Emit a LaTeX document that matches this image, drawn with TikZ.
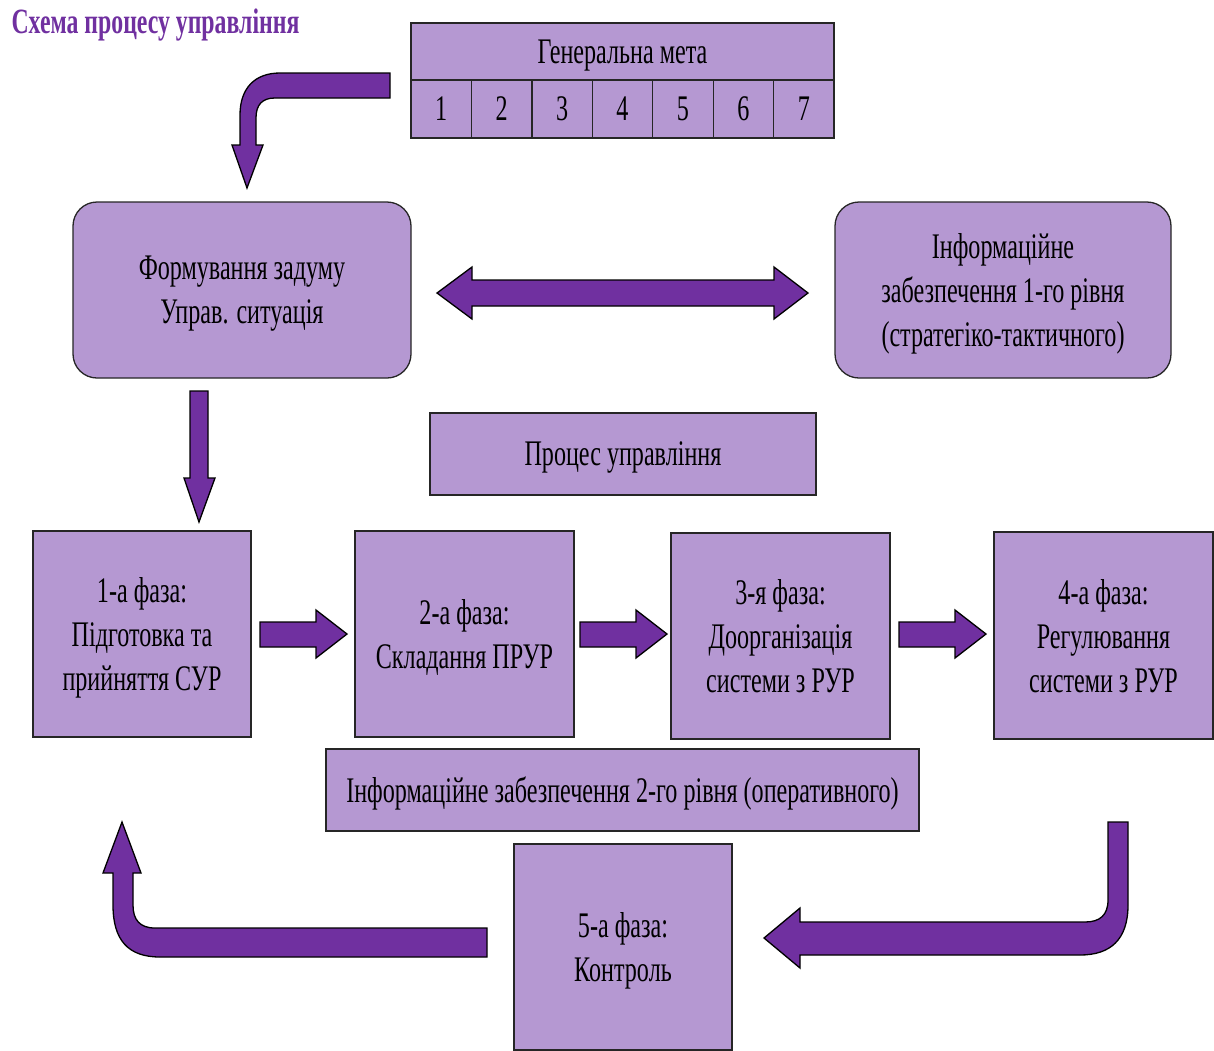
\documentclass[tikz,border=0pt]{standalone}
\usepackage{fontspec}
\setmainfont{Liberation Serif}[FakeStretch=0.67]
\definecolor{lilac}{HTML}{B598D2}
\definecolor{plum}{HTML}{7030A0}

\begin{document}
\begin{tikzpicture}[x=1pt,y=-1pt,
    box/.style={draw=black!85, line width=1.3pt, fill=lilac, align=center,
      font=\fontsize{36}{44}\selectfont, inner sep=0pt, text depth=0pt},
    rbox/.style={box, rounded corners=24pt},
    blk/.style={fill=plum, draw=black, line width=1.3pt}]
  \useasboundingbox (0,0) rectangle (1214,1050);

  \node (title) [anchor=west, text=plum, font=\fontsize{35.5}{40}\selectfont\bfseries] at (8,25) {Схема процесу управління};

  \node (goal) [box, minimum width=423pt, minimum height=57pt] at (622.5,51.5) {Генеральна мета};
  \foreach \i in {1,...,7}
    \node (c\i) [box, minimum width=60.43pt, minimum height=58pt, text depth=-3pt] at ({411+60.43*(\i-0.5)},109) {\i};

  \node (idea) [rbox, minimum width=338pt, minimum height=176pt] at (242,290) {Формування задуму\\Управ. ситуація};
  \node (info1) [rbox, minimum width=336pt, minimum height=176pt] at (1003,290) {Інформаційне\\забезпечення 1-го рівня\\(стратегіко-тактичного)};
  \node (proc) [box, minimum width=386pt, minimum height=82pt] at (623,454) {Процес управління};

  \node (ph1) [box, minimum width=218pt, minimum height=206pt] at (142,634) {1-а фаза:\\Підготовка та\\прийняття СУР};
  \node (ph2) [box, minimum width=219pt, minimum height=206pt] at (464.5,634) {2-а фаза:\\Складання ПРУР};
  \node (ph3) [box, minimum width=219pt, minimum height=206pt] at (780.5,636) {3-я фаза:\\Доорганізація\\системи з РУР};
  \node (ph4) [box, minimum width=219pt, minimum height=207pt] at (1103.5,635.5) {4-а фаза:\\Регулювання\\системи з РУР};
  \node (info2) [box, minimum width=593pt, minimum height=82pt] at (622.5,790) {Інформаційне забезпечення 2-го рівня (оперативного)};
  \node (ph5) [box, minimum width=218pt, minimum height=206pt] at (623,947) {5-а фаза:\\Контроль};

  % block arrows
  \draw[blk] (390,73) -- (280,73) .. controls (255,73) and (240,88) .. (240,115) -- (240,145) -- (232,145)
    -- (247,188) -- (263,145) -- (256,145) -- (256,118) .. controls (256,105) and (262,98) .. (275,98) -- (390,98) -- cycle;
  \draw[blk] (437,293) -- (472,267) -- (472,280) -- (774,280) -- (774,267) -- (808,293)
    -- (774,319) -- (774,306) -- (472,306) -- (472,319) -- cycle;
  \draw[blk] (190,391) -- (208,391) -- (208,478) -- (215,478) -- (199,522) -- (184,478) -- (190,478) -- cycle;
  \foreach \x in {260,580,899}
    \draw[blk] (\x,622) -- (\x+56,622) -- (\x+56,610) -- (\x+87,634) -- (\x+56,658) -- (\x+56,647) -- (\x,647) -- cycle;
  \draw[blk] (1108,822) -- (1128,822) -- (1128,905) .. controls (1128,940) and (1110,955) .. (1080,955) -- (800,955)
    -- (800,968) -- (764,938) -- (800,908) -- (800,922) -- (1085,922) .. controls (1100,922) and (1108,915) .. (1108,900) -- cycle;
  \draw[blk] (487,928) -- (155,928) .. controls (140,928) and (133,920) .. (133,905) -- (133,873) -- (141,873)
    -- (122,822) -- (103,873) -- (113,873) -- (113,905) .. controls (113,940) and (128,957) .. (160,957) -- (487,957) -- cycle;
\end{tikzpicture}
\end{document}
